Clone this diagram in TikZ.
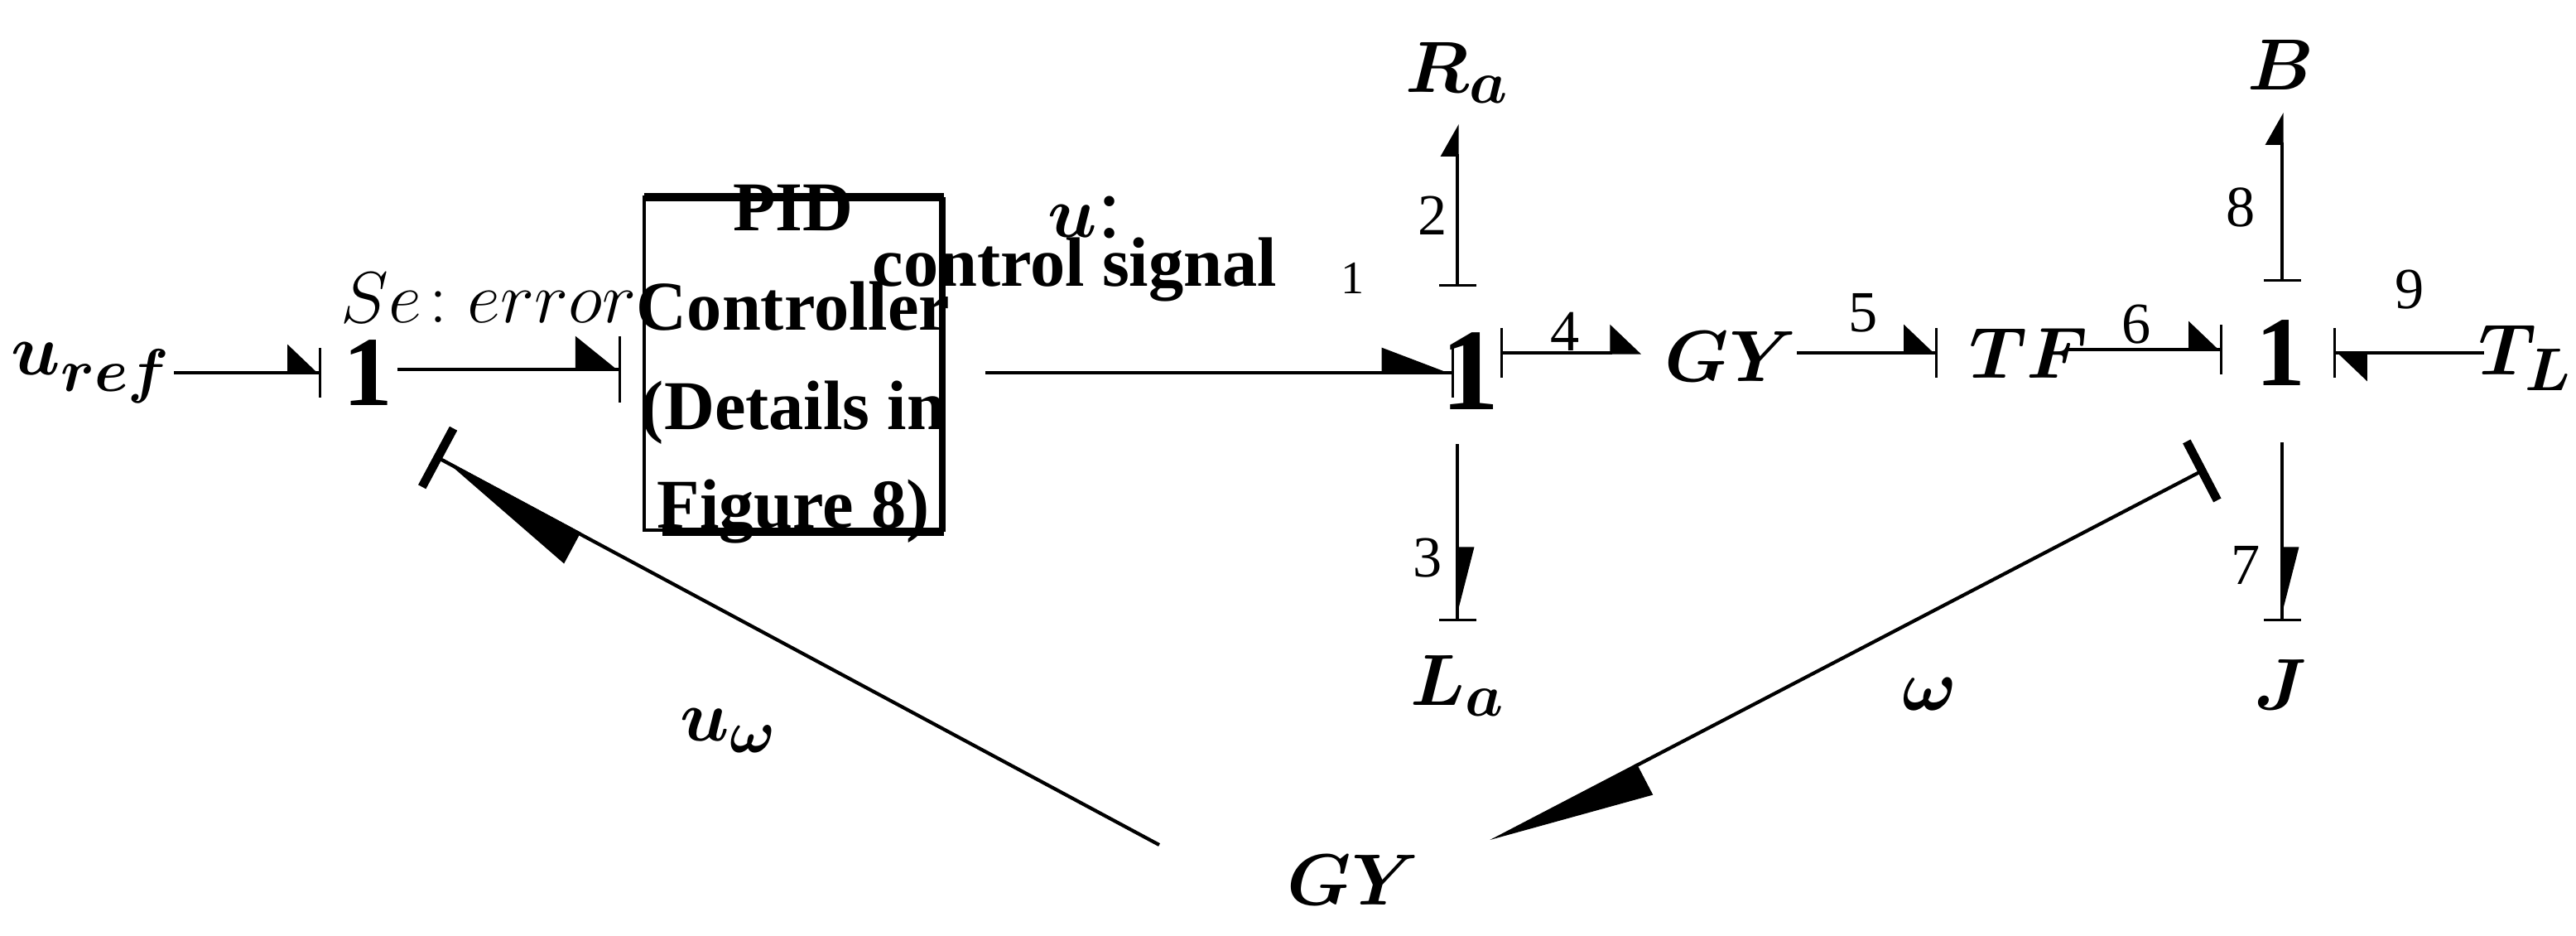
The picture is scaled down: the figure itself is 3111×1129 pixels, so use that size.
\documentclass[tikz,border=0pt]{standalone}
\usepackage{amsmath}
\usepackage{bm}
\usepackage{fontspec}
\setmainfont{Liberation Serif}
\usetikzlibrary{arrows.meta}
\begin{document}
\begin{tikzpicture}[x=0.01cm,y=-0.01cm,
  lbl/.style={font=\fontsize{30}{34}\selectfont, inner sep=0pt},
  one/.style={font=\fontsize{34}{38}\selectfont\bfseries, inner sep=0pt},
  num/.style={font=\fontsize{20}{22}\selectfont, inner sep=0pt},
  bond/.style={line width=0.9pt},
  hS/.style={-{Triangle[left,length=0.36cm,width=0.68cm]Bar[width=0.6cm,line width=0.9pt]}},
  hL/.style={-{Triangle[left,length=0.5cm,width=0.8cm]Bar[width=0.8cm,line width=0.9pt]}}]
\useasboundingbox (0,0) rectangle (3111,1129);
% nodes
\node[lbl] (uref) at (110,450) {$\bm{u_{ref}}$};
\node[one] (one0) at (444,450) {1};
\node[lbl] at (590,360) {$Se\!:error$};
\node[font=\fontsize{24}{34}\selectfont\bfseries, align=center, inner sep=0pt] (pid) at (958,440) {PID\\Controller\\(Details in\\Figure 8)};
\draw[line width=1.2pt] (778,238) rectangle (1138,640);
\draw[line width=3pt] (778,238) -- (1140,238);
\draw[line width=3pt] (800,642) -- (1140,642);
\draw[line width=2pt] (1138,238) -- (1138,642);
\node[lbl] at (1310,262) {$\bm{u}$:};
\node[font=\fontsize{24}{28}\selectfont\bfseries, inner sep=0pt] at (1298,326) {control signal};
\node[num, font=\fontsize{16}{18}\selectfont] at (1634,336) {1};
\node[one, font=\fontsize{40}{44}\selectfont\bfseries] (one1) at (1776,448) {1};
\node[lbl] (gy1) at (2090,430) {$\bm{GY}$};
\node[lbl] (tf) at (2450,426) {$\bm{TF}$};
\node[one] (one2) at (2754,426) {1};
\node[lbl] (tl) at (3050,432) {$\bm{T_L}$};
\node[lbl] (ra) at (1760,88) {$\bm{R_a}$};
\node[lbl] (la) at (1760,828) {$\bm{L_a}$};
\node[lbl] (b) at (2754,78) {$\bm{B}$};
\node[lbl] (j) at (2754,826) {$\bm{J}$};
\node[lbl] (gy2) at (1634,1062) {$\bm{GY}$};
\node[lbl] at (880,882) {$\bm{u_\omega}$};
\node[lbl] at (2330,838) {$\bm{\omega}$};
\node[num] at (1890,400) {4};
\node[num] at (2250,378) {5};
\node[num] at (2580,392) {6};
\node[num] at (2910,350) {9};
\node[num] at (1730,260) {2};
\node[num] at (1724,674) {3};
\node[num] at (2706,250) {8};
\node[num] at (2712,682) {7};
% coordinates
\coordinate (a1) at (210,450); \coordinate (a2) at (388,450);
\coordinate (b1) at (480,446); \coordinate (b2) at (750,446);
\coordinate (c1) at (1190,450); \coordinate (c2) at (1756,450);
\coordinate (d1) at (1812,426); \coordinate (d2) at (1982,426);
\coordinate (e1) at (2170,426); \coordinate (e2) at (2340,426);
\coordinate (f1) at (2494,422); \coordinate (f2) at (2684,422);
\coordinate (g1) at (3000,426); \coordinate (g2) at (2818,426);
\coordinate (h1) at (1760,346); \coordinate (h2) at (1760,150);
\coordinate (i1) at (1760,536); \coordinate (i2) at (1760,750);
\coordinate (k1) at (2756,340); \coordinate (k2) at (2756,136);
\coordinate (m1) at (2756,534); \coordinate (m2) at (2756,750);
\coordinate (n1) at (1400,1020); \coordinate (n2) at (524,550);
\coordinate (p1) at (2664,566); \coordinate (p2) at (1800,1016);
% bonds
\draw[bond,hS] (a1) -- (a2);
\draw[bond,hL] (b1) -- (b2);
\draw[bond,-{Triangle[left,length=0.8cm,width=0.6cm]Bar[width=0.6cm,line width=0.9pt]}] (c1) -- (c2);
\draw[bond,{Bar[width=0.6cm,line width=0.9pt]}-{Triangle[left,length=0.36cm,width=0.68cm]}] (d1) -- (d2);
\draw[bond,hS] (e1) -- (e2);
\draw[bond,hS] (f1) -- (f2);
\draw[bond,hS] (g1) -- (g2);
\draw[bond,{Bar[width=0.45cm,line width=0.9pt]}-{Triangle[left,length=0.36cm,width=0.4cm]}] (h1) -- (h2);
\draw[bond,-{Triangle[left,length=0.8cm,width=0.4cm]Bar[width=0.45cm,line width=0.9pt]}] (i1) -- (i2);
\draw[bond,{Bar[width=0.45cm,line width=0.9pt]}-{Triangle[left,length=0.36cm,width=0.4cm]}] (k1) -- (k2);
\draw[bond,-{Triangle[left,length=0.8cm,width=0.4cm]Bar[width=0.45cm,line width=0.9pt]}] (m1) -- (m2);
\draw[line width=1.2pt,-{Triangle[left,length=1.8cm,width=0.8cm]Bar[width=0.8cm,line width=3pt]}] (n1) -- (n2);
\draw[line width=1.2pt,{Bar[width=0.8cm,line width=3pt]}-{Triangle[left,length=1.9cm,width=0.8cm]}] (p1) -- (p2);
\end{tikzpicture}
\end{document}
